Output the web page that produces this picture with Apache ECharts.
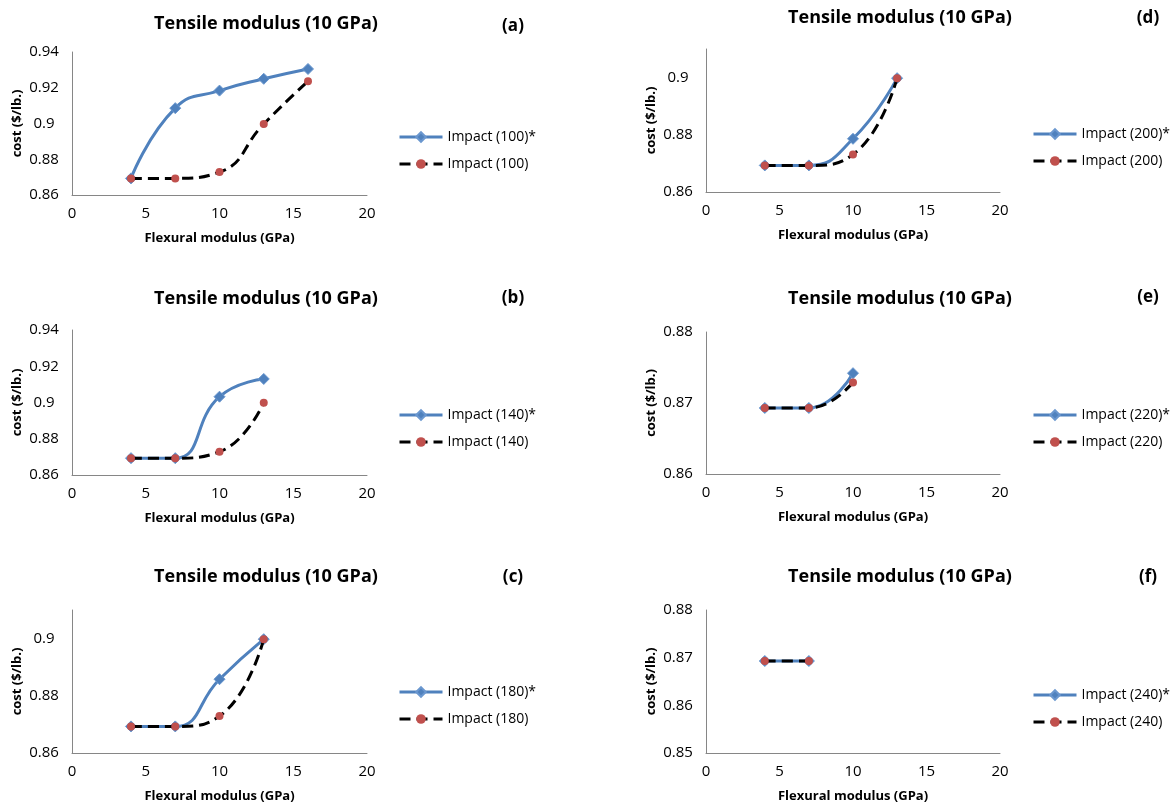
<!DOCTYPE html>
<html>
<head>
<meta charset="utf-8">
<script src="https://cdn.jsdelivr.net/npm/echarts@6/dist/echarts.min.js"></script>
<style>
html,body{margin:0;padding:0;background:#fff;}
#c{width:1175px;height:808px;}
</style>
</head>
<body>
<div id="c"></div>
<script>
// ---- data ----
const panelLabels = ['(a)', '(b)', '(c)', '(d)', '(e)', '(f)'];
const chartTitle = 'Tensile modulus (10 GPa)';
const xName = 'Flexural modulus (GPa)';
const yName = 'cost ($/lb.)';
const impactLevels = ['100', '140', '180', '200', '220', '240'];

const xA = [4, 7, 10, 13, 16];
const starA = [0.8693, 0.9086, 0.9184, 0.9250, 0.9305];
const plainA = [0.8693, 0.8693, 0.8728, 0.8997, 0.9237];

const xB = [4, 7, 10, 13];
const starB = [0.8693, 0.8693, 0.9032, 0.9130];
const plainB = [0.8693, 0.8693, 0.8728, 0.8998];

const xC = [4, 7, 10, 13];
const starC = [0.8693, 0.8693, 0.8858, 0.8998];
const plainC = [0.8693, 0.8693, 0.8729, 0.8998];

const xD = [4, 7, 10, 13];
const starD = [0.8693, 0.8693, 0.8786, 0.8998];
const plainD = [0.8693, 0.8693, 0.8731, 0.8998];

const xE = [4, 7, 10];
const starE = [0.8693, 0.8693, 0.8742];
const plainE = [0.8693, 0.8693, 0.8729];

const xF = [4, 7];
const starF = [0.8693, 0.8693];
const plainF = [0.8693, 0.8693];

const yRanges = [
  [0.86, 0.94, 0.02],
  [0.86, 0.94, 0.02],
  [0.86, 0.91, 0.02],
  [0.86, 0.91, 0.02],
  [0.86, 0.88, 0.01],
  [0.85, 0.88, 0.01]
];
const xTicks = [0, 20, 5];

// ---- layout ----
const FONT = '"Open Sans", sans-serif';
const grids = [
  {left: 72, top: 52, width: 295, height: 143},
  {left: 72, top: 330, width: 295, height: 145},
  {left: 72, top: 610, width: 295, height: 143},
  {left: 706, top: 49, width: 294, height: 143},
  {left: 706, top: 332, width: 294, height: 142},
  {left: 706, top: 610, width: 294, height: 143}
];
const titlePos = [[261, 23], [261, 298], [261, 576], [895, 17], [895, 298], [895, 576]];
const labelPos = [[508, 25], [508, 297], [508, 576], [1143, 17], [1143, 296], [1143, 576]];
const legendPos = [[393, 125], [393, 403], [393, 680], [1027, 122], [1027, 403], [1027, 683]];

const xs = [xA, xB, xC, xD, xE, xF];
const stars = [starA, starB, starC, starD, starE, starF];
const plains = [plainA, plainB, plainC, plainD, plainE, plainF];

const option = {
  backgroundColor: '#fff',
  animation: false,
  title: [],
  grid: [],
  xAxis: [],
  yAxis: [],
  legend: [],
  series: []
};

for (let i = 0; i < 6; i++) {
  option.grid.push(Object.assign({containLabel: false}, grids[i]));
  option.title.push({
    text: chartTitle,
    left: titlePos[i][0], top: titlePos[i][1] - 13, textAlign: 'center',
    textStyle: {fontFamily: FONT, fontSize: 18, fontWeight: 'bold', color: '#000'}
  });
  option.title.push({
    text: panelLabels[i],
    left: labelPos[i][0], top: labelPos[i][1] - 12, textAlign: 'center',
    textStyle: {fontFamily: FONT, fontSize: 17, fontWeight: 'bold', color: '#000'}
  });
  option.xAxis.push({
    type: 'value', gridIndex: i, min: xTicks[0], max: xTicks[1], interval: xTicks[2],
    name: xName, nameLocation: 'middle', nameGap: 37,
    nameTextStyle: {fontFamily: FONT, fontSize: 13, fontWeight: 'bold', color: '#000'},
    axisLine: {show: true, lineStyle: {color: '#868686', width: 1}},
    axisTick: {show: false},
    splitLine: {show: false},
    axisLabel: {fontFamily: FONT, fontSize: 15, color: '#000', margin: 11}
  });
  const r = yRanges[i];
  option.yAxis.push({
    type: 'value', gridIndex: i, min: r[0], max: r[1], interval: r[2],
    name: yName, nameLocation: 'middle', nameGap: 48,
    nameTextStyle: {fontFamily: FONT, fontSize: 13, fontWeight: 'bold', color: '#000'},
    axisLine: {show: true, lineStyle: {color: '#868686', width: 1}},
    axisTick: {show: false},
    splitLine: {show: false},
    axisLabel: {fontFamily: FONT, fontSize: 15, color: '#000', margin: 28, align: 'center',
      showMaxLabel: (i === 2 || i === 3) ? false : true,
      formatter: v => String(+v.toFixed(2))}
  });
  const nStar = 'Impact (' + impactLevels[i] + ')*';
  const nPlain = 'Impact (' + impactLevels[i] + ')';
  option.legend.push({
    orient: 'vertical', left: legendPos[i][0], top: legendPos[i][1],
    itemWidth: 43, itemHeight: 12, itemGap: 13,
    data: [nStar, nPlain],
    lineStyle: {width: 3},
    textStyle: {fontFamily: FONT, fontSize: 14, color: '#000'}
  });
  option.series.push({
    name: nStar, type: 'line', xAxisIndex: i, yAxisIndex: i,
    data: xs[i].map((x, k) => [x, stars[i][k]]),
    smooth: 0.5,
    symbol: 'diamond', symbolSize: 11,
    lineStyle: {color: '#4F81BD', width: 3},
    itemStyle: {color: '#4F81BD', borderColor: '#6A97CF', borderWidth: 1},
    z: 2
  });
  option.series.push({
    name: nPlain, type: 'line', xAxisIndex: i, yAxisIndex: i,
    data: xs[i].map((x, k) => [x, plains[i][k]]),
    smooth: 0.5,
    symbol: 'circle', symbolSize: 8,
    lineStyle: {color: '#000', width: 3, type: [11, 6]},
    itemStyle: {color: '#C0504D', borderColor: '#C0504D', borderWidth: 0},
    z: 3
  });
}

const chart = echarts.init(document.getElementById('c'), null, {renderer: 'canvas'});
chart.setOption(option);
</script>
</body>
</html>
